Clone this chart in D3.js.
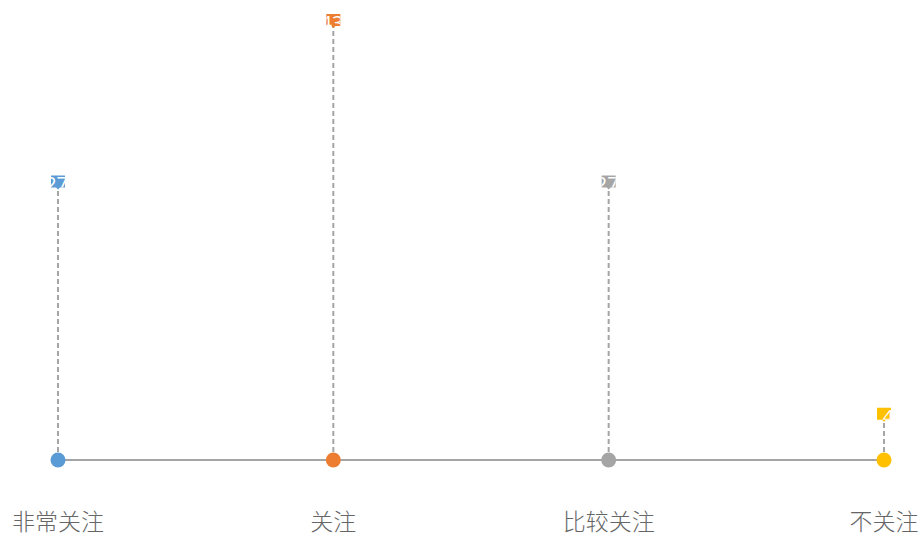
<!DOCTYPE html>
<html><head><meta charset="utf-8">
<script src="https://cdn.jsdelivr.net/npm/d3@7/dist/d3.min.js"></script>
<style>body{margin:0;background:#fff}svg{display:block}</style>
</head><body>
<svg id="c" width="923" height="534"></svg>
<script>
const categories = ["非常关注", "关注", "比较关注", "不关注"];
const values = [27, 43, 27, 4];
const colors = ["#5b9bd5", "#ed7d31", "#a5a5a5", "#ffc000"];

const svg = d3.select("#c");
const x = d3.scalePoint().domain(categories).range([58, 884]);
const y = d3.scaleLinear().domain([0, 43]).range([460, 26]);
const base = y(0);

// dashed drop lines
svg.selectAll("line.drop").data(categories).join("line")
  .attr("class", "drop")
  .attr("x1", d => x(d)).attr("x2", d => x(d))
  .attr("y1", base).attr("y2", (d, i) => y(values[i]))
  .attr("stroke", "#a5a5a5").attr("stroke-width", 2)
  .attr("stroke-dasharray", "5,3");

// baseline
svg.append("line")
  .attr("x1", x(categories[0])).attr("x2", x(categories[categories.length - 1]))
  .attr("y1", base).attr("y2", base)
  .attr("stroke", "#a5a5a5").attr("stroke-width", 2);

// dots
svg.selectAll("circle.dot").data(categories).join("circle")
  .attr("class", "dot")
  .attr("cx", d => x(d)).attr("cy", base).attr("r", 7.5)
  .attr("fill", (d, i) => colors[i]);

// callout labels (text clipped by the small box, as in the reference)
const defs = svg.append("defs");
const g = svg.selectAll("g.lab").data(categories).join("g").attr("class", "lab");
g.each(function(d, i) {
  const cx = x(d), by = y(values[i]);
  const bx = cx - 7, bt = by - 12;
  defs.append("clipPath").attr("id", "clip" + i)
    .append("rect").attr("x", bx).attr("y", bt).attr("width", 14).attr("height", 12);
  const s = d3.select(this);
  s.append("path")
    .attr("d", `M${bx},${bt}h14v12h-5l-2,2l-2,-2h-5z`)
    .attr("fill", colors[i]);
  s.append("text")
    .attr("x", bx + 17).attr("y", bt + 16)
    .attr("text-anchor", "end")
    .attr("clip-path", `url(#clip${i})`)
    .attr("font-family", "Open Sans, sans-serif").attr("font-size", 20)
    .attr("fill", "#fff")
    .text(values[i]);
});

// category labels
svg.selectAll("text.cat").data(categories).join("text")
  .attr("class", "cat")
  .attr("x", d => x(d)).attr("y", 520)
  .attr("dominant-baseline", "central")
  .attr("text-anchor", "middle")
  .attr("font-family", "Noto Sans CJK SC, sans-serif").attr("font-size", 23)
  .attr("font-weight", 300)
  .attr("fill", "#666666")
  .text(d => d);
</script>
</body></html>
